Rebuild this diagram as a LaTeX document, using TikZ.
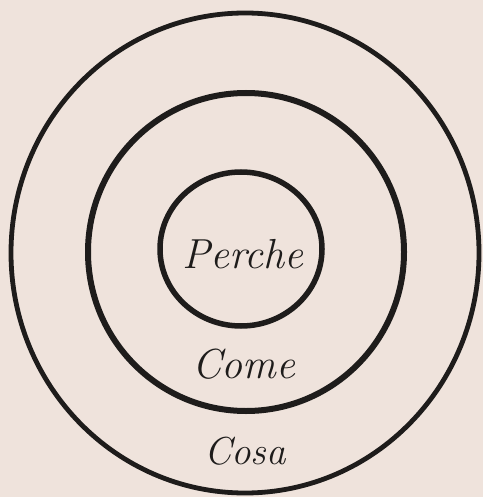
\documentclass[tikz,border=0pt]{standalone}
\usepackage{tikz}
\definecolor{linen}{RGB}{239,227,220}
\definecolor{ink}{RGB}{30,28,27}
\tikzset{
  ring/.style={draw=ink, line width=5.5pt},
  word/.style={text=ink, font=\fontsize{42}{44}\selectfont\itshape, inner sep=0pt}
}
\begin{document}
\begin{tikzpicture}[x=1pt,y=-1pt]
\fill[linen] (0,0) rectangle (483,497);
\useasboundingbox (0,0) rectangle (483,497);
\draw[ring, line width=4.8pt] (245,253) ellipse [x radius=234, y radius=240];
\draw[ring, line width=6pt] (246,252) ellipse [x radius=158, y radius=159];
\draw[ring] (241,249) ellipse [x radius=81, y radius=77];
\node[word] (perche) at (243,254) {Perche};
\node[word] (come) at (244,364) {Come};
\node[word, font=\fontsize{39}{41}\selectfont\itshape] (cosa) at (245,451) {Cosa};
\end{tikzpicture}
\end{document}
